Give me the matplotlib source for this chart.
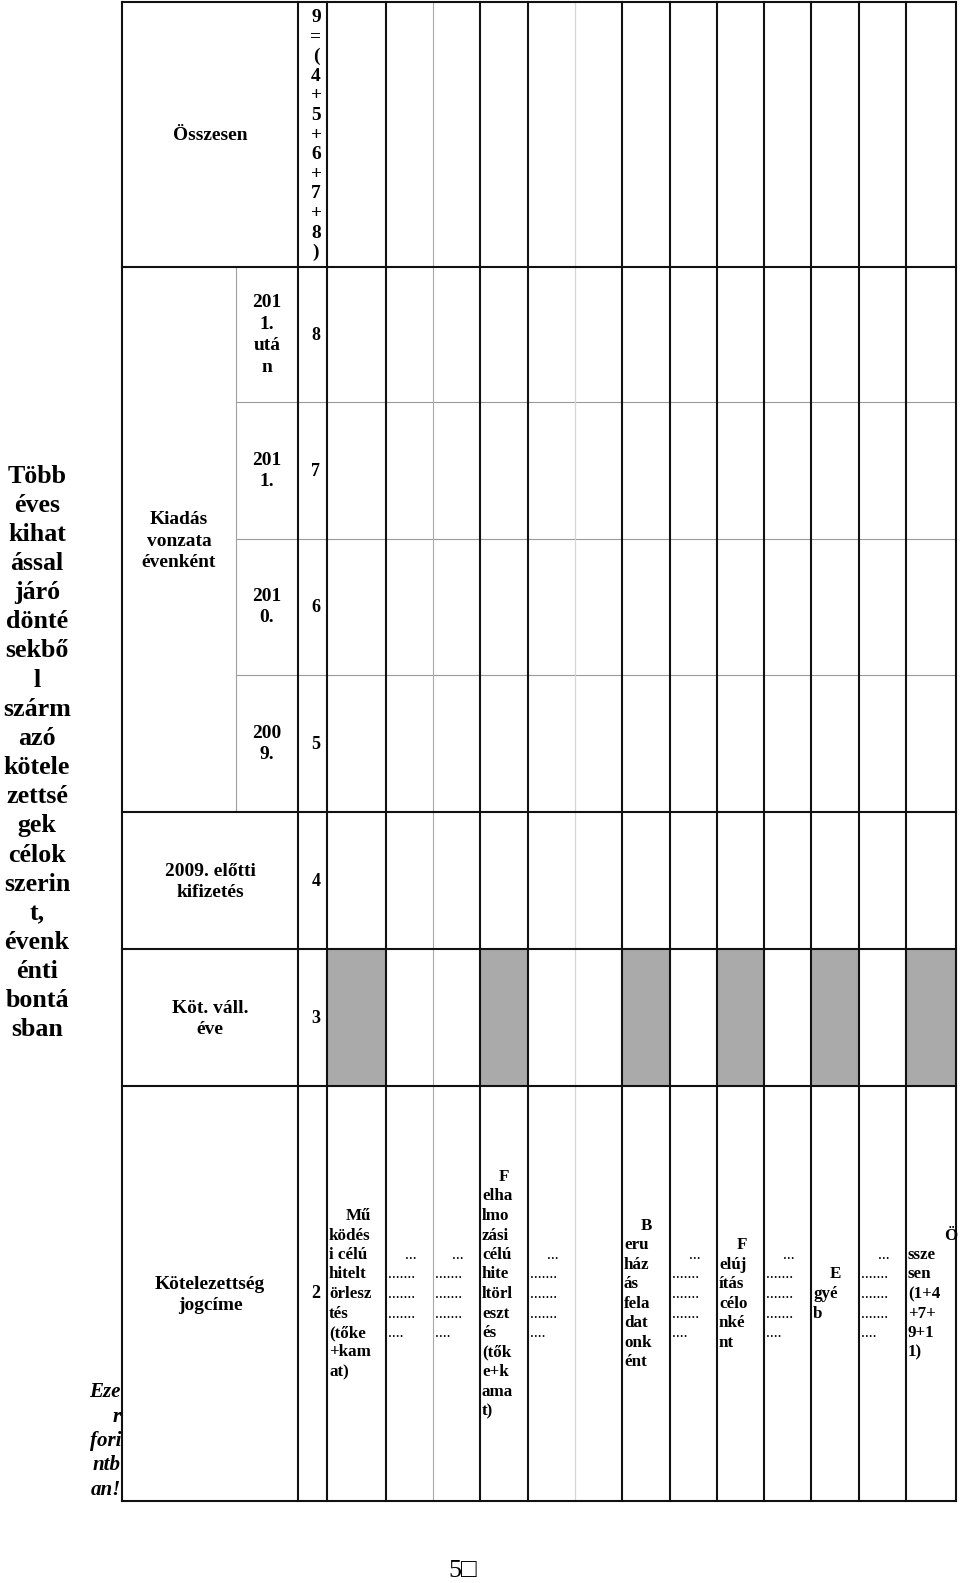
"""Rotated budget form page (Hungarian multi-year commitments table)."""

import matplotlib
matplotlib.use("Agg")
import matplotlib.pyplot as plt
from matplotlib.patches import Rectangle

W, H = 960, 1583
SERIF = ["Liberation Serif", "DejaVu Serif"]

# ---- table content -------------------------------------------------------
SIDE_TITLE = ["Több", "éves", "kihat", "ással", "járó", "dönté", "sekbő", "l",
              "szárm", "azó", "kötele", "zettsé", "gek", "célok", "szerin",
              "t,", "évenk", "énti", "bontá", "sban"]
UNIT_NOTE = ["Eze", "r", "fori", "ntb", "an!"]

TOTAL_HEADER = "Összesen"
TOTAL_FORMULA = list("9=(4+5+6+7+8)")
SPENDING_HEADER = "Kiadás\nvonzata\névenként"
YEAR_LABELS = ["201\n1.\nutá\nn", "201\n1.", "201\n0.", "200\n9."]
ROW_LABELS = ["2009. előtti\nkifizetés", "Köt. váll.\néve", "Kötelezettség\njogcíme"]
ROW_CODES = ["8", "7", "6", "5", "4", "3", "2"]

COLUMN_TITLES = [
    ["Mű", "ködés", "i célú", "hitelt", "örlesz", "tés", "(tőke", "+kam", "at)"],
    ["F", "elha", "lmo", "zási", "célú", "hite", "ltörl", "eszt", "és", "(tők",
     "e+k", "ama", "t)"],
    ["B", "eru", "ház", "ás", "fela", "dat", "onk", "ént"],
    ["F", "elúj", "ítás", "célo", "nké", "nt"],
    ["E", "gyé", "b"],
    ["Ö", "ssze", "sen", "(1+4", "+7+", "9+1", "1)"],
]
FILLER = ["...", ".......", ".......", ".......", "...."]
PAGE_NO = "5\u25a1"

# ---- layout (pixels) -----------------------------------------------------
X_THICK = [122, 298, 327, 386, 480, 528, 622, 670, 717, 764, 811, 859, 906, 956]
Y_THICK = [2, 267, 812, 949, 1086, 1501]
Y_THIN = [402, 539, 675]
ROW_CENTERS = [335, 471, 607, 744, 881, 1018, 1294]
TITLE_COLS = [(327, 44), (480, 29), (622, 30), (717, 30), (811, 30), (906, 51)]
FILLER_COLS = [386, 433, 528, 670, 764, 859]
SHADED_COLS = [(327, 386), (480, 528), (622, 670), (717, 764), (811, 859), (906, 956)]


def px(v):
    return v * 0.72


def stack(ax, lines, x, yc, dy, **kw):
    y0 = yc - (len(lines) - 1) / 2 * dy
    for i, s in enumerate(lines):
        ax.text(x, y0 + i * dy, s, va="center", **kw)


fig = plt.figure(figsize=(W / 100, H / 100), dpi=100)
ax = fig.add_axes([0, 0, 1, 1])
ax.set_xlim(0, W)
ax.set_ylim(H, 0)
ax.axis("off")

# shaded cells of the "Köt. váll. éve" row
for x0, x1 in SHADED_COLS:
    ax.add_patch(Rectangle((x0, 949), x1 - x0, 1086 - 949,
                           facecolor="#aaaaaa", edgecolor="none", zorder=1))

# grid
for y in Y_THIN:
    ax.plot([236, 956], [y, y], color="#9a9a9a", lw=0.8, zorder=2)
ax.plot([236, 236], [267, 812], color="#a0a0a0", lw=0.8, zorder=2)
ax.plot([433, 433], [2, 1501], color="#a8a8a8", lw=0.8, zorder=2)
ax.plot([575, 575], [2, 1501], color="#d6d6d6", lw=0.9, zorder=2)
for x in X_THICK:
    ax.plot([x, x], [Y_THICK[0], Y_THICK[-1]], color="#111111", lw=1.5, zorder=3)
for y in Y_THICK:
    ax.plot([X_THICK[0], X_THICK[-1]], [y, y], color="#111111", lw=1.5, zorder=3)

bold = dict(family=SERIF, fontweight="bold", color="black", zorder=4)

# left side title and unit note
stack(ax, SIDE_TITLE, 37, 753, 29.15, ha="center", fontsize=px(26), **bold)
stack(ax, UNIT_NOTE, 121, 1441, 24.3, ha="right", fontsize=px(21),
      fontstyle="italic", **bold)

# header block
ax.text(210, 135, TOTAL_HEADER, ha="center", va="center", fontsize=px(19.4), **bold)
stack(ax, TOTAL_FORMULA, 316, 135, 19.6, ha="center", fontsize=px(19.4), **bold)
stack(ax, SPENDING_HEADER.split("\n"), 179, 541, 21.5, ha="center",
      fontsize=px(19.4), **bold)
for lab, yc in zip(YEAR_LABELS, ROW_CENTERS[:4]):
    stack(ax, lab.split("\n"), 267, yc, 21.8, ha="center", fontsize=px(19.4), **bold)
for lab, yc in zip(ROW_LABELS, ROW_CENTERS[4:]):
    stack(ax, lab.split("\n"), 210, yc + 1, 21.8, ha="center", fontsize=px(19.4), **bold)
for code, yc in zip(ROW_CODES, ROW_CENTERS):
    ax.text(316, yc, code, ha="center", va="center", fontsize=px(18), **bold)

# column titles in the bottom row (first line pushed right, rest left)
for lines, (x0, rgt) in zip(COLUMN_TITLES, TITLE_COLS):
    y0 = 1294 - (len(lines) - 1) / 2 * 19.5
    ax.text(x0 + rgt, y0, lines[0], ha="right", va="center", fontsize=px(17), **bold)
    stack(ax, lines[1:], x0 + 2, 1294 + 19.5 / 2, 19.5, ha="left",
          fontsize=px(17), **bold)

for x0 in FILLER_COLS:
    y0 = 1297 - 2 * 19.5
    ax.text(x0 + 31, y0 - 3, FILLER[0], ha="right", va="center",
            fontsize=px(16), family=SERIF, zorder=4)
    stack(ax, FILLER[1:], x0 + 2, 1297 + 19.5 / 2 - 3, 19.5, ha="left",
          fontsize=px(16), family=SERIF, zorder=4)

ax.text(463, 1571, PAGE_NO, ha="center", va="center", fontsize=px(26),
        family=["Liberation Serif", "DejaVu Sans"], color="black")

fig.savefig("out.png", dpi=100)
